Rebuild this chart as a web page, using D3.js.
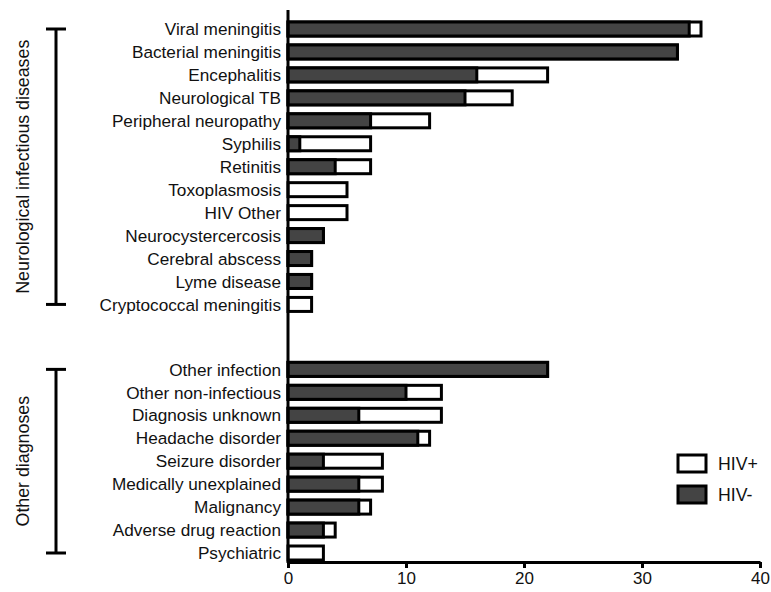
<!DOCTYPE html>
<html>
<head>
<meta charset="utf-8">
<style>
  body { margin: 0; background: #fff; }
  text { font-family: "Liberation Sans", Arial, sans-serif; fill: #111; }
</style>
</head>
<body>
<svg id="chart"></svg>
<script src="https://cdn.jsdelivr.net/npm/d3@7"></script>
<script>
// data
const neuroCats = ['Viral meningitis', 'Bacterial meningitis', 'Encephalitis', 'Neurological TB',
  'Peripheral neuropathy', 'Syphilis', 'Retinitis', 'Toxoplasmosis', 'HIV Other',
  'Neurocystercercosis', 'Cerebral abscess', 'Lyme disease', 'Cryptococcal meningitis'];
const neuroNeg = [34, 33, 16, 15, 7, 1, 4, 0, 0, 3, 2, 2, 0];
const neuroPos = [1, 0, 6, 4, 5, 6, 3, 5, 5, 0, 0, 0, 2];

const otherCats = ['Other infection', 'Other non-infectious', 'Diagnosis unknown', 'Headache disorder',
  'Seizure disorder', 'Medically unexplained', 'Malignancy', 'Adverse drug reaction', 'Psychiatric'];
const otherNeg = [22, 10, 6, 11, 3, 6, 6, 3, 0];
const otherPos = [0, 3, 7, 1, 5, 2, 1, 1, 3];

const groups = ['Neurological infectious diseases', 'Other diagnoses'];
const xTicks = [0, 10, 20, 30, 40];
const seriesNames = ['HIV+', 'HIV-'];

const [width, height] = [771, 592];
const svg = d3.select('#chart').attr('width', width).attr('height', height);

// rows: slot index, with a gap between the two groups
const gapSlots = 1.83;
const rows = [];
neuroCats.forEach((c, i) => rows.push({ cat: c, neg: neuroNeg[i], pos: neuroPos[i], slot: i, group: 0 }));
otherCats.forEach((c, i) => rows.push({ cat: c, neg: otherNeg[i], pos: otherPos[i], slot: neuroCats.length + gapSlots + i, group: 1 }));

const x = d3.scaleLinear().domain([0, 40]).range([288, 760]);
const y = d3.scaleLinear().domain([0, rows[rows.length - 1].slot]).range([29, 553]);
const barH = 14;
const dark = '#444444';

// bars
const bar = svg.append('g').selectAll('g').data(rows).enter().append('g');
bar.filter(d => d.neg + d.pos > 0).append('rect')
  .attr('x', x(0))
  .attr('y', d => y(d.slot) - barH / 2)
  .attr('width', d => x(d.neg + d.pos) - x(0))
  .attr('height', barH)
  .attr('fill', '#fff')
  .attr('stroke', '#000')
  .attr('stroke-width', 3);
bar.filter(d => d.neg > 0).append('rect')
  .attr('x', x(0))
  .attr('y', d => y(d.slot) - barH / 2)
  .attr('width', d => x(d.neg) - x(0))
  .attr('height', barH)
  .attr('fill', dark)
  .attr('stroke', '#000')
  .attr('stroke-width', 3);

// category labels
svg.append('g').selectAll('text').data(rows).enter().append('text')
  .attr('x', 281)
  .attr('y', d => y(d.slot))
  .attr('dy', '0.36em')
  .attr('text-anchor', 'end')
  .style('font-size', '17.2px')
  .text(d => d.cat);

// y axis line
svg.append('line')
  .attr('x1', x(0)).attr('x2', x(0))
  .attr('y1', 10).attr('y2', 563)
  .attr('stroke', '#000').attr('stroke-width', 3);

// x axis
const xAxis = svg.append('g')
  .attr('transform', 'translate(0,562)')
  .call(d3.axisBottom(x).tickValues(xTicks).tickSize(6).tickSizeOuter(0));
xAxis.select('.domain').attr('stroke-width', 3);
xAxis.selectAll('.tick line').attr('stroke-width', 3);
xAxis.selectAll('.tick text')
  .style('font-size', '17px')
  .style('font-family', '"Liberation Sans", Arial, sans-serif')
  .attr('fill', '#111')
  .attr('y', 10);

// group brackets
groups.forEach((g, gi) => {
  const gr = rows.filter(d => d.group === gi);
  const y0 = y(gr[0].slot), y1 = y(gr[gr.length - 1].slot);
  const b = svg.append('g').attr('stroke', '#000').attr('stroke-width', 3);
  b.append('line').attr('x1', 56).attr('x2', 56).attr('y1', y0).attr('y2', y1);
  b.append('line').attr('x1', 46).attr('x2', 66).attr('y1', y0).attr('y2', y0);
  b.append('line').attr('x1', 46).attr('x2', 66).attr('y1', y1).attr('y2', y1);
  svg.append('text')
    .attr('transform', 'translate(23,' + (y0 + y1) / 2 + ') rotate(-90)')
    .attr('text-anchor', 'middle')
    .attr('dy', '0.36em')
    .style('font-size', '17.8px')
    .text(g);
});

// legend
const legend = svg.append('g').selectAll('g').data(seriesNames).enter().append('g')
  .attr('transform', (d, i) => 'translate(678,' + (455 + i * 31) + ')');
legend.append('rect')
  .attr('width', 28).attr('height', 17)
  .attr('fill', (d, i) => i === 0 ? '#fff' : dark)
  .attr('stroke', '#000').attr('stroke-width', 3);
legend.append('text')
  .attr('x', 40).attr('y', 9).attr('dy', '0.36em')
  .style('font-size', '17.7px')
  .text(d => d);
</script>
</body>
</html>
